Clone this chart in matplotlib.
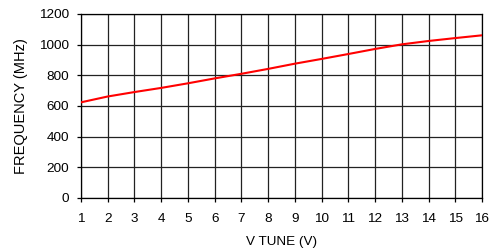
import matplotlib
matplotlib.use("Agg")
import matplotlib.pyplot as plt

plt.rcParams["font.family"] = ["Liberation Sans", "DejaVu Sans"]

# data
v_tune = [1, 2, 3, 4, 5, 6, 7, 8, 9, 10, 11, 12, 13, 14, 15, 16]
freq = [624, 662, 691, 718, 748, 780, 810, 842, 876, 907, 939, 972, 1002, 1024, 1043, 1061]

x_ticks = list(range(1, 17))
y_ticks = [0, 200, 400, 600, 800, 1000, 1200]

fig = plt.figure(figsize=(4.94, 2.52), dpi=100)
ax = fig.add_axes([81/494, 54/252, 401/494, 184/252])

ax.plot(v_tune, freq, color="#ff0000", lw=1.5, zorder=3)

ax.set_xlim(1, 16)
ax.set_ylim(0, 1200)
ax.set_xticks(x_ticks)
ax.set_yticks(y_ticks)
ax.grid(True, color="#222222", lw=0.9)
for s in ax.spines.values():
    s.set_color("black")
    s.set_linewidth(0.9)
ax.tick_params(direction="out", length=3, width=0.9, labelsize=9.7)
ax.tick_params(axis="x", pad=8)
ax.tick_params(axis="y", pad=5.5)

ax.set_xlabel("V TUNE (V)", fontsize=9.7, labelpad=8)
ax.set_ylabel("FREQUENCY (MHz)", fontsize=10.5, labelpad=8)

fig.savefig("out.png", dpi=100)
